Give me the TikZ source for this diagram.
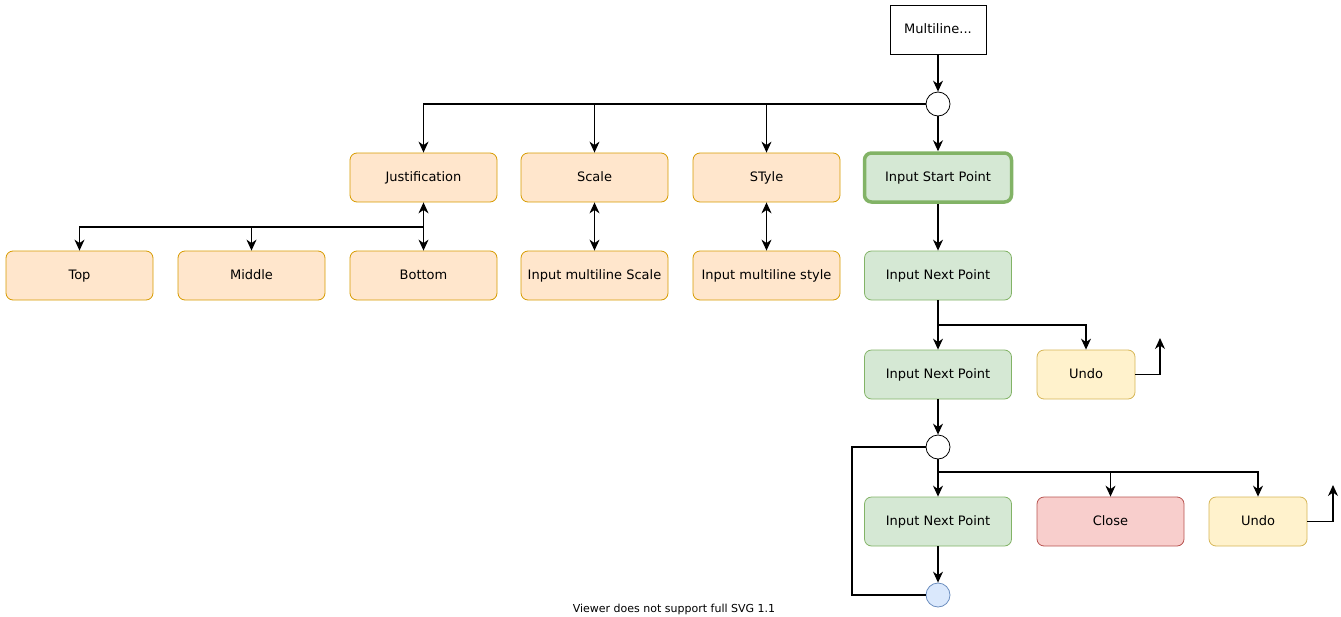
\documentclass[tikz,border=0pt]{standalone}
\usepackage{fontspec}
\setmainfont{DejaVu Sans}
\usetikzlibrary{arrows.meta}

\definecolor{orfill}{HTML}{FFE6CC}
\definecolor{ordraw}{HTML}{D79B00}
\definecolor{grfill}{HTML}{D5E8D4}
\definecolor{grdraw}{HTML}{82B366}
\definecolor{yefill}{HTML}{FFF2CC}
\definecolor{yedraw}{HTML}{D6B656}
\definecolor{rdfill}{HTML}{F8CECC}
\definecolor{rddraw}{HTML}{B85450}
\definecolor{blfill}{HTML}{DAE8FC}
\definecolor{bldraw}{HTML}{6C8EBF}

\begin{document}
\begin{tikzpicture}[x=1pt,y=-1pt,
	font=\fontsize{13}{15}\selectfont,
	box/.style={rectangle,rounded corners=7pt,minimum width=147pt,minimum height=49pt,inner sep=0pt,text height=9.5pt,text depth=2.5pt,line width=0.8pt},
	optbox/.style={box,fill=orfill,draw=ordraw},
	inbox/.style={box,fill=grfill,draw=grdraw},
	undobox/.style={box,minimum width=98pt,fill=yefill,draw=yedraw},
	closebox/.style={box,fill=rdfill,draw=rddraw},
	junc/.style={circle,draw,fill=white,minimum size=24pt,inner sep=0pt,line width=0.8pt},
	arr/.style={-{Stealth[length=11pt,width=10pt,inset=3.5pt]},line width=1.1pt},
	darr/.style={{Stealth[length=11pt,width=10pt,inset=3.5pt]}-{Stealth[length=11pt,width=10pt,inset=3.5pt]},line width=1.1pt}]

\useasboundingbox (0,0) rectangle (1341,616);

% command and first junction
\node[rectangle,draw,fill=white,minimum width=96pt,minimum height=49pt,inner sep=0pt,text height=9.5pt,text depth=2.5pt] (cmd) at (938,29.5) {Multiline...};
\node[junc] (c1) at (938,104) {};

% options row
\node[optbox] (just) at (423.5,177.5) {Justification};
\node[optbox] (scale) at (594.5,177.5) {Scale};
\node[optbox] (style) at (766.5,177.5) {STyle};
\node[inbox,line width=3.5pt] (start) at (938,177.5) {Input Start Point};

% second row
\node[optbox] (top) at (79.5,275.5) {Top};
\node[optbox] (middle) at (251.5,275.5) {Middle};
\node[optbox] (bottom) at (423.5,275.5) {Bottom};
\node[optbox] (inscale) at (594.5,275.5) {Input multiline Scale};
\node[optbox] (instyle) at (766.5,275.5) {Input multiline style};
\node[inbox] (nextA) at (938,275.5) {Input Next Point};

% third row
\node[inbox] (nextB) at (938,374.5) {Input Next Point};
\node[undobox] (undoA) at (1086,374.5) {Undo};

\node[junc] (c2) at (938,447) {};

% last row
\node[inbox] (nextC) at (938,521.5) {Input Next Point};
\node[closebox] (close) at (1110.5,521.5) {Close};
\node[undobox] (undoB) at (1258,521.5) {Undo};
\node[junc,fill=blfill,draw=bldraw] (end) at (938,595) {};

\coordinate (jfork) at (423.5,227);
\coordinate (nfork) at (938,325);
\coordinate (cfork) at (938,472);
\coordinate (upA) at (1160,338);
\coordinate (upB) at (1333,485);
\coordinate (loop) at (852,520);

\draw[arr] (cmd) -- (c1);
\draw[arr] (c1) -- (start);
\foreach \n in {just,scale,style}{
	\draw[arr] (c1.west) -| (\n.north);
}

\draw[darr] (just) -- (bottom);
\foreach \n in {top,middle}{
	\draw[arr] (jfork) -| (\n.north);
}
\draw[darr] (scale) -- (inscale);
\draw[darr] (style) -- (instyle);

\draw[arr] (start) -- (nextA);
\draw[arr] (nextA) -- (nextB);
\draw[arr] (nfork) -| (undoA.north);
\draw[arr] (undoA.east) -| (upA);

\draw[arr] (nextB) -- (c2);
\draw[arr] (c2) -- (nextC);
\foreach \n in {close,undoB}{
	\draw[arr] (cfork) -| (\n.north);
}
\draw[arr] (undoB.east) -| (upB);
\draw[arr] (nextC) -- (end);
\draw[line width=1.1pt] (c2.west) -| (loop) |- (end.west);

\node[font=\fontsize{11}{12}\selectfont] (note) at (674,609) {Viewer does not support full SVG 1.1};

\end{tikzpicture}
\end{document}
